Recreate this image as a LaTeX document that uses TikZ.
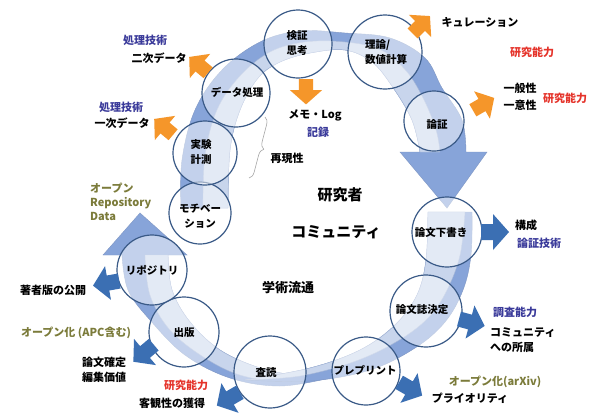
\documentclass[tikz,border=0pt]{standalone}
\usepackage{fontspec}
\setmainfont{Noto Sans CJK JP}
\usetikzlibrary{decorations.pathreplacing}
\definecolor{bandc}{HTML}{87A4D9}
\definecolor{bandl}{HTML}{C8D5EC}
\definecolor{bandline}{HTML}{7F97C4}
\definecolor{circc}{HTML}{3A5A87}
\definecolor{orng}{HTML}{F5962A}
\definecolor{blu}{HTML}{3B6FB3}
\definecolor{purp}{HTML}{3A3A9A}
\definecolor{redc}{HTML}{E5332A}
\definecolor{oliv}{HTML}{7B7B3A}
\newcommand\myarr[5]{\fill[#4,shift={(#1,#2)},rotate=#3,scale=#5] (-12,-8) -- (0,-8) -- (0,-18) -- (16,0) -- (0,18) -- (0,8) -- (-12,8) -- cycle;}
\begin{document}
\begin{tikzpicture}[x=1pt,y=-1pt,
  cir/.style={circle,draw=circc,line width=1.2pt,fill=white,fill opacity=0.5,text opacity=1,inner sep=0pt},
  txt/.style={font=\fontsize{11}{15}\selectfont\bfseries,inner sep=0pt,align=center},
  ctxt/.style={font=\fontsize{10.5}{15}\selectfont\bfseries,inner sep=0pt,align=center},
  bandbase/.style={fill=bandc,draw=bandline,line width=0.4pt},
  bandlight/.style={fill=bandl,draw=bandline!70,line width=0.4pt}]
\useasboundingbox (0,0) rectangle (595,413);
\fill[white] (0,0) rectangle (595,413);

% ---- band 3 (lower left, arrow up)
\path[bandbase] (330,378) -- plot[smooth,tension=0.6] coordinates {(330,378) (280,386) (230,378) (185,355) (150,320) (128,290) (122,255)}
  -- (103,255) -- (140,213) -- (187,255) -- (168,255)
  -- plot[smooth,tension=0.6] coordinates {(168,255) (172,290) (190,322) (220,350) (260,368) (300,376) (330,378)} -- cycle;
\path[bandlight] (330,378) -- plot[smooth,tension=0.6] coordinates {(330,378) (280,381) (240,375) (205,358) (170,330) (150,295) (145,255)}
  -- (168,255) -- plot[smooth,tension=0.6] coordinates {(168,255) (172,290) (190,322) (220,350) (260,368) (300,376) (330,378)} -- cycle;

% ---- band 2 (right lower, tapering)
\path[bandbase] (428,212) -- (472,212) -- plot[smooth,tension=0.6] coordinates {(472,212) (471,255) (463,290) (445,322) (415,348) (370,370) (310,381) (245,380)}
  -- plot[smooth,tension=0.6] coordinates {(245,380) (310,368) (360,350) (395,325) (417,295) (426,260) (428,212)} -- cycle;
\path[bandlight] (428,212) -- (465,212) -- plot[smooth,tension=0.6] coordinates {(465,212) (460,255) (447,290) (428,318) (396,342) (353,362) (300,376) (245,380)}
  -- plot[smooth,tension=0.6] coordinates {(245,380) (310,368) (360,350) (395,325) (417,295) (426,260) (428,212)} -- cycle;

% ---- band 1 (upper loop, arrow down)
\path[bandbase] (181,208) -- plot[smooth,tension=0.6] coordinates {(181,208) (182,160) (195,110) (222,70) (260,42) (300,31) (345,33) (390,38) (425,58) (442,88) (462,120) (466,152)}
  -- (487,152) -- (447,208) -- (400,152) -- (420,152)
  -- plot[smooth,tension=0.6] coordinates {(420,152) (412,120) (392,86) (372,62) (345,50) (310,53) (280,62) (258,78) (240,110) (230,150) (228,208)} -- cycle;
\path[bandlight] (203,208) -- plot[smooth,tension=0.6] coordinates {(203,208) (205,156) (217,110) (240,76) (270,52) (305,42) (345,42) (381,50) (407,72) (424,100) (436,130) (440,152)}
  -- (420,152)
  -- plot[smooth,tension=0.6] coordinates {(420,152) (412,120) (392,86) (372,62) (345,50) (310,53) (280,62) (258,78) (240,110) (230,150) (228,208)} -- cycle;

% ---- circles
\node[cir,minimum size=68pt] (kensho) at (298,44) {};
\node[cir,minimum size=74pt] (riron) at (385,52) {};
\node[cir,minimum size=60pt] (ronsho) at (434,121) {};
\node[cir,minimum size=70pt] (shitagaki) at (447,232) {};
\node[cir,minimum size=72pt] (ronbunshi) at (426,311) {};
\node[cir,minimum size=68pt] (preprint) at (366,371) {};
\node[cir,minimum size=72pt] (sadoku) at (270,372) {};
\node[cir,minimum size=70pt] (shuppan) at (184,332) {};
\node[cir,minimum size=70pt] (repo) at (152,270) {};
\node[cir,minimum size=62pt] (moti) at (200,213) {};
\node[cir,minimum size=64pt] (jikken) at (205,153) {};
\node[cir,minimum size=68pt] (data) at (236,93) {};

% ---- circle texts
\node[ctxt] (tkensho) at (297,43) {検証\\思考};
\node[ctxt,align=left] (triron) at (386,52) {理論/\\数値計算};
\node[ctxt] (tronsho) at (437,125) {論証};
\node[ctxt] (tshitagaki) at (441,233) {論文下書き};
\node[ctxt] (tronbunshi) at (422,310) {論文誌決定};
\node[ctxt] (tpreprint) at (365,370) {プレプリント};
\node[ctxt] (tsadoku) at (266,373) {査読};
\node[ctxt] (tshuppan) at (184,333) {出版};
\node[ctxt] (trepo) at (152,270) {リポジトリ};
\node[ctxt] (tmoti) at (200,216) {モチベー\\ション};
\node[ctxt] (tjikken) at (201,152) {実験\\計測};
\node[ctxt] (tdata) at (237,92) {データ処理};

% ---- block arrows
\myarr{200}{66}{140}{orng}{0.88}
\myarr{165}{128}{140}{orng}{0.88}
\myarr{306}{90}{-90}{orng}{0.9}
\myarr{420}{26}{45}{orng}{0.88}
\myarr{482}{105}{30}{orng}{0.88}
\myarr{493}{232}{0}{blu}{1}
\myarr{470}{322}{-15}{blu}{0.95}
\myarr{409}{388}{-30}{blu}{0.95}
\myarr{230}{398}{-150}{blu}{0.95}
\myarr{145}{352}{-140}{blu}{0.95}
\myarr{108}{283}{190}{blu}{0.95}

% ---- brace
\draw[gray!70,line width=0.6pt,decorate,decoration={brace,amplitude=7pt}] (265,117) -- (249,178);

% ---- labels
\node[txt,text=purp] (l1) at (145,40) {処理技術};
\node[txt] (l2) at (159,58) {二次データ};
\node[txt,text=purp] (l3) at (121,107) {処理技術};
\node[txt] (l4) at (122,123) {一次データ};
\node[txt] (l5) at (480,22) {キュレーション};
\node[txt,text=redc] (l6) at (532,52) {研究能力};
\node[txt,font=\fontsize{11}{17}\selectfont\bfseries] (l7) at (520,97) {一般性\\一意性};
\node[txt,text=redc] (l8) at (565,98) {研究能力};
\node[txt] (l9) at (315,115) {メモ・Log};
\node[txt,text=purp] (l10) at (318,132) {記録};
\node[txt] (l11) at (287,158) {再現性};
\node[txt,font=\fontsize{15}{18}\selectfont\bfseries] (l12) at (340,195) {研究者};
\node[txt,font=\fontsize{15}{18}\selectfont\bfseries] (l13) at (336,232) {コミュニティ};
\node[txt,font=\fontsize{13}{16}\selectfont\bfseries] (l14) at (288,288) {学術流通};
\node[txt,text=oliv,align=left,anchor=north west,font=\fontsize{11}{14}\selectfont\bfseries] (l15) at (90,183) {オープン\\Repository\\Data};
\node[txt] (l16) at (53,290) {著者版の公開};
\node[txt,text=oliv] (l17) at (76,333) {オープン化 (APC含む)};
\node[txt] (l18) at (104,370) {論文確定\\編集価値};
\node[txt,text=redc] (l19) at (186,385) {研究能力};
\node[txt] (l20) at (172,403) {客観性の獲得};
\node[txt,anchor=west] (l21) at (515,225) {構成};
\node[txt,anchor=west,text=purp] (l22) at (517,243) {論証技術};
\node[txt,anchor=west,text=purp] (l23) at (493,312) {調査能力};
\node[txt,anchor=west,align=left] (l24) at (490,340) {コミュニティ\\への所属};
\node[txt,text=oliv] (l25) at (495,382) {オープン化(arXiv)};
\node[txt] (l26) at (470,398) {プライオリティ};
\end{tikzpicture}
\end{document}
